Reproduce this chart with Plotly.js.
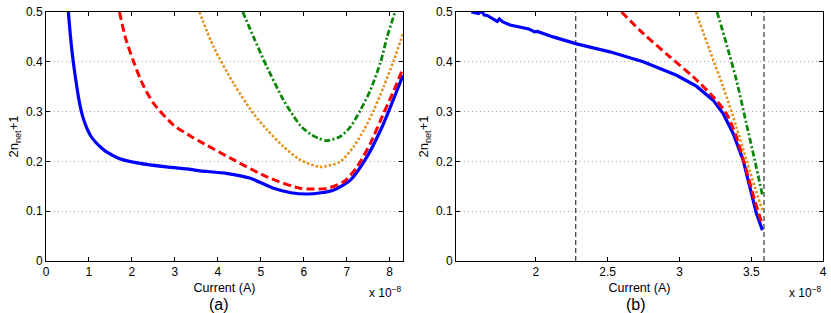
<!DOCTYPE html>
<html>
<head>
<meta charset="utf-8">
<script src="https://cdn.plot.ly/plotly-3.0.1.min.js"></script>
<style>html,body{margin:0;padding:0;background:#fff;}#chart{width:831px;height:313px;}</style>
</head>
<body>
<div id="chart"></div>
<script>
// Panel (a): current in units of 1e-8 A
const aBlueX = [0.52, 0.56, 0.60, 0.65, 0.70, 0.76, 0.83, 0.90, 0.97, 1.05, 1.15, 1.28, 1.41, 1.70, 2.19, 2.80, 3.36, 3.59, 4.20, 4.76, 5.30, 5.70, 6.08, 6.40, 6.70, 7.09, 7.47, 7.79, 8.02, 8.31];
const aBlueY = [0.50, 0.46, 0.425, 0.39, 0.36, 0.327, 0.298, 0.278, 0.263, 0.25, 0.239, 0.228, 0.219, 0.206, 0.196, 0.189, 0.184, 0.181, 0.176, 0.166, 0.146, 0.137, 0.1345, 0.137, 0.1426, 0.163, 0.209, 0.263, 0.31, 0.373];
const aRedX = [1.71, 1.85, 2.04, 2.25, 2.50, 2.97, 3.36, 3.59, 4.37, 5.14, 5.92, 6.54, 6.93, 7.24, 7.55, 7.86, 8.10, 8.31];
const aRedY = [0.50, 0.448, 0.400, 0.355, 0.317, 0.273, 0.251, 0.2396, 0.203, 0.169, 0.146, 0.146, 0.159, 0.189, 0.236, 0.297, 0.343, 0.387];
const aOrangeX = [3.57, 3.90, 4.37, 4.83, 5.14, 5.53, 5.92, 6.39, 6.85, 7.16, 7.40, 7.63, 7.86, 8.10, 8.31];
const aOrangeY = [0.50, 0.43, 0.356, 0.296, 0.264, 0.2295, 0.203, 0.189, 0.1995, 0.2295, 0.263, 0.303, 0.35, 0.404, 0.457];
const aGreenX = [4.58, 4.83, 5.14, 5.53, 5.77, 5.92, 6.15, 6.35, 6.54, 6.85, 7.09, 7.32, 7.55, 7.79, 7.94, 8.14];
const aGreenY = [0.50, 0.45, 0.39, 0.323, 0.29, 0.272, 0.255, 0.246, 0.2416, 0.25, 0.27, 0.303, 0.343, 0.40, 0.45, 0.504];

// Panel (b)
const bBlueX = [1.55, 1.60, 1.62, 1.64, 1.66, 1.70, 1.73, 1.745, 1.77, 1.82, 1.86, 1.89, 1.95, 1.99, 2.01, 2.12, 2.283, 2.515, 2.747, 2.979, 3.118, 3.234, 3.304, 3.374, 3.443, 3.49, 3.536, 3.578];
const bBlueY = [0.50, 0.497, 0.502, 0.494, 0.493, 0.486, 0.481, 0.486, 0.480, 0.474, 0.472, 0.470, 0.466, 0.460, 0.461, 0.450, 0.436, 0.420, 0.400, 0.373, 0.351, 0.323, 0.296, 0.256, 0.203, 0.149, 0.096, 0.062];
const bRedX = [2.596, 2.747, 2.933, 3.095, 3.234, 3.327, 3.397, 3.466, 3.524, 3.578];
const bRedY = [0.50, 0.457, 0.41, 0.37, 0.33, 0.296, 0.249, 0.182, 0.122, 0.072];
const bOrangeX = [3.114, 3.211, 3.304, 3.397, 3.466, 3.524, 3.578];
const bOrangeY = [0.50, 0.423, 0.35, 0.269, 0.203, 0.149, 0.102];
const bGreenX = [3.262, 3.327, 3.397, 3.466, 3.524, 3.578];
const bGreenY = [0.50, 0.436, 0.363, 0.276, 0.203, 0.132];
const bMarkers = [2.277, 3.589];

const aTicks = [0, 1, 2, 3, 4, 5, 6, 7, 8];
const bTicks = [2, 2.5, 3, 3.5, 4];
const yTicks = [0, 0.1, 0.2, 0.3, 0.4, 0.5];

const BLUE = '#0000ff', RED = '#ff0000', ORANGE = '#e8901c', GREEN = '#0b860b';
const styles = {
  blue: {color: BLUE, width: 3.2, dash: 'solid'},
  red: {color: RED, width: 3, dash: '8px,4px'},
  orange: {color: ORANGE, width: 2.6, dash: '2.5px,2px'},
  green: {color: GREEN, width: 2.8, dash: '6px,2.5px,2px,2.5px'}
};
function tr(x, y, st, xa, ya, shape) {
  return {x: x, y: y, xaxis: xa, yaxis: ya, type: 'scatter', mode: 'lines',
          line: Object.assign({shape: shape || 'spline', smoothing: 0.7}, st), hoverinfo: 'skip', showlegend: false};
}
const traces = [
  tr(aBlueX, aBlueY, styles.blue, 'x', 'y'),
  tr(aRedX, aRedY, styles.red, 'x', 'y'),
  tr(aOrangeX, aOrangeY, styles.orange, 'x', 'y'),
  tr(aGreenX, aGreenY, styles.green, 'x', 'y'),
];
bMarkers.forEach(function (m) {
  traces.push({x: [m, m], y: [0, 0.5], xaxis: 'x2', yaxis: 'y2', type: 'scatter', mode: 'lines',
    line: {color: '#444', width: 1.3, dash: '5px,3px'}, hoverinfo: 'skip', showlegend: false});
});
traces.push(tr(bBlueX, bBlueY, styles.blue, 'x2', 'y2', 'linear'));
traces.push(tr(bRedX, bRedY, styles.red, 'x2', 'y2'));
traces.push(tr(bOrangeX, bOrangeY, styles.orange, 'x2', 'y2'));
traces.push(tr(bGreenX, bGreenY, styles.green, 'x2', 'y2'));

const FAM = 'Liberation Sans, Arial, sans-serif';
const font = {family: FAM, size: 12, color: '#000'};
function xax(range, ticks, dom, anchor) {
  return {domain: dom, range: range, anchor: anchor, tickvals: ticks, ticktext: ticks.map(String),
    ticks: 'inside', ticklen: 4, tickcolor: '#000', showline: true, linecolor: '#000', linewidth: 1,
    mirror: 'ticks', showgrid: false, zeroline: false, tickfont: font,
    title: {text: 'Current (A)', font: {family: FAM, size: 12.5, color: '#000'}, standoff: 4}};
}
function yax(dom, anchor) {
  return {domain: dom, range: [0, 0.5], anchor: anchor, tickvals: yTicks, ticktext: yTicks.map(String),
    ticks: 'inside', ticklen: 4, tickcolor: '#000', showline: true, linecolor: '#000', linewidth: 1,
    mirror: 'ticks', showgrid: true, gridcolor: '#aaa', griddash: '1px,3px', gridwidth: 1, zeroline: false,
    tickfont: font, title: {text: '2n<sub>net</sub>+1', font: {family: FAM, size: 13, color: '#000'}, standoff: 4}};
}
const yDom = [1 - 261 / 313, 1 - 12 / 313];
const labFont = {family: FAM, size: 16, color: '#000'};
const layout = {
  width: 831, height: 313, margin: {l: 0, r: 0, t: 0, b: 0},
  paper_bgcolor: '#fff', plot_bgcolor: '#fff', showlegend: false, font: font,
  xaxis: xax([0, 8.31], aTicks, [46 / 831, 403 / 831], 'y'),
  yaxis: yax(yDom, 'x'),
  xaxis2: xax([1.443, 4], bTicks, [456 / 831, 823 / 831], 'y2'),
  yaxis2: yax(yDom, 'x2'),
  annotations: [
    {text: '(a)', xref: 'paper', yref: 'paper', x: 219 / 831, y: 1 - 304 / 313, xanchor: 'center', yanchor: 'middle', showarrow: false, font: labFont},
    {text: '(b)', xref: 'paper', yref: 'paper', x: 636 / 831, y: 1 - 304 / 313, xanchor: 'center', yanchor: 'middle', showarrow: false, font: labFont},
    {text: 'x 10<sup>−8</sup>', xref: 'paper', yref: 'paper', x: 404 / 831, y: 1 - 292 / 313, xanchor: 'right', yanchor: 'middle', showarrow: false, font: font},
    {text: 'x 10<sup>−8</sup>', xref: 'paper', yref: 'paper', x: 824 / 831, y: 1 - 292 / 313, xanchor: 'right', yanchor: 'middle', showarrow: false, font: font}
  ]
};
Plotly.newPlot('chart', traces, layout, {staticPlot: true, displayModeBar: false});
</script>
</body>
</html>
